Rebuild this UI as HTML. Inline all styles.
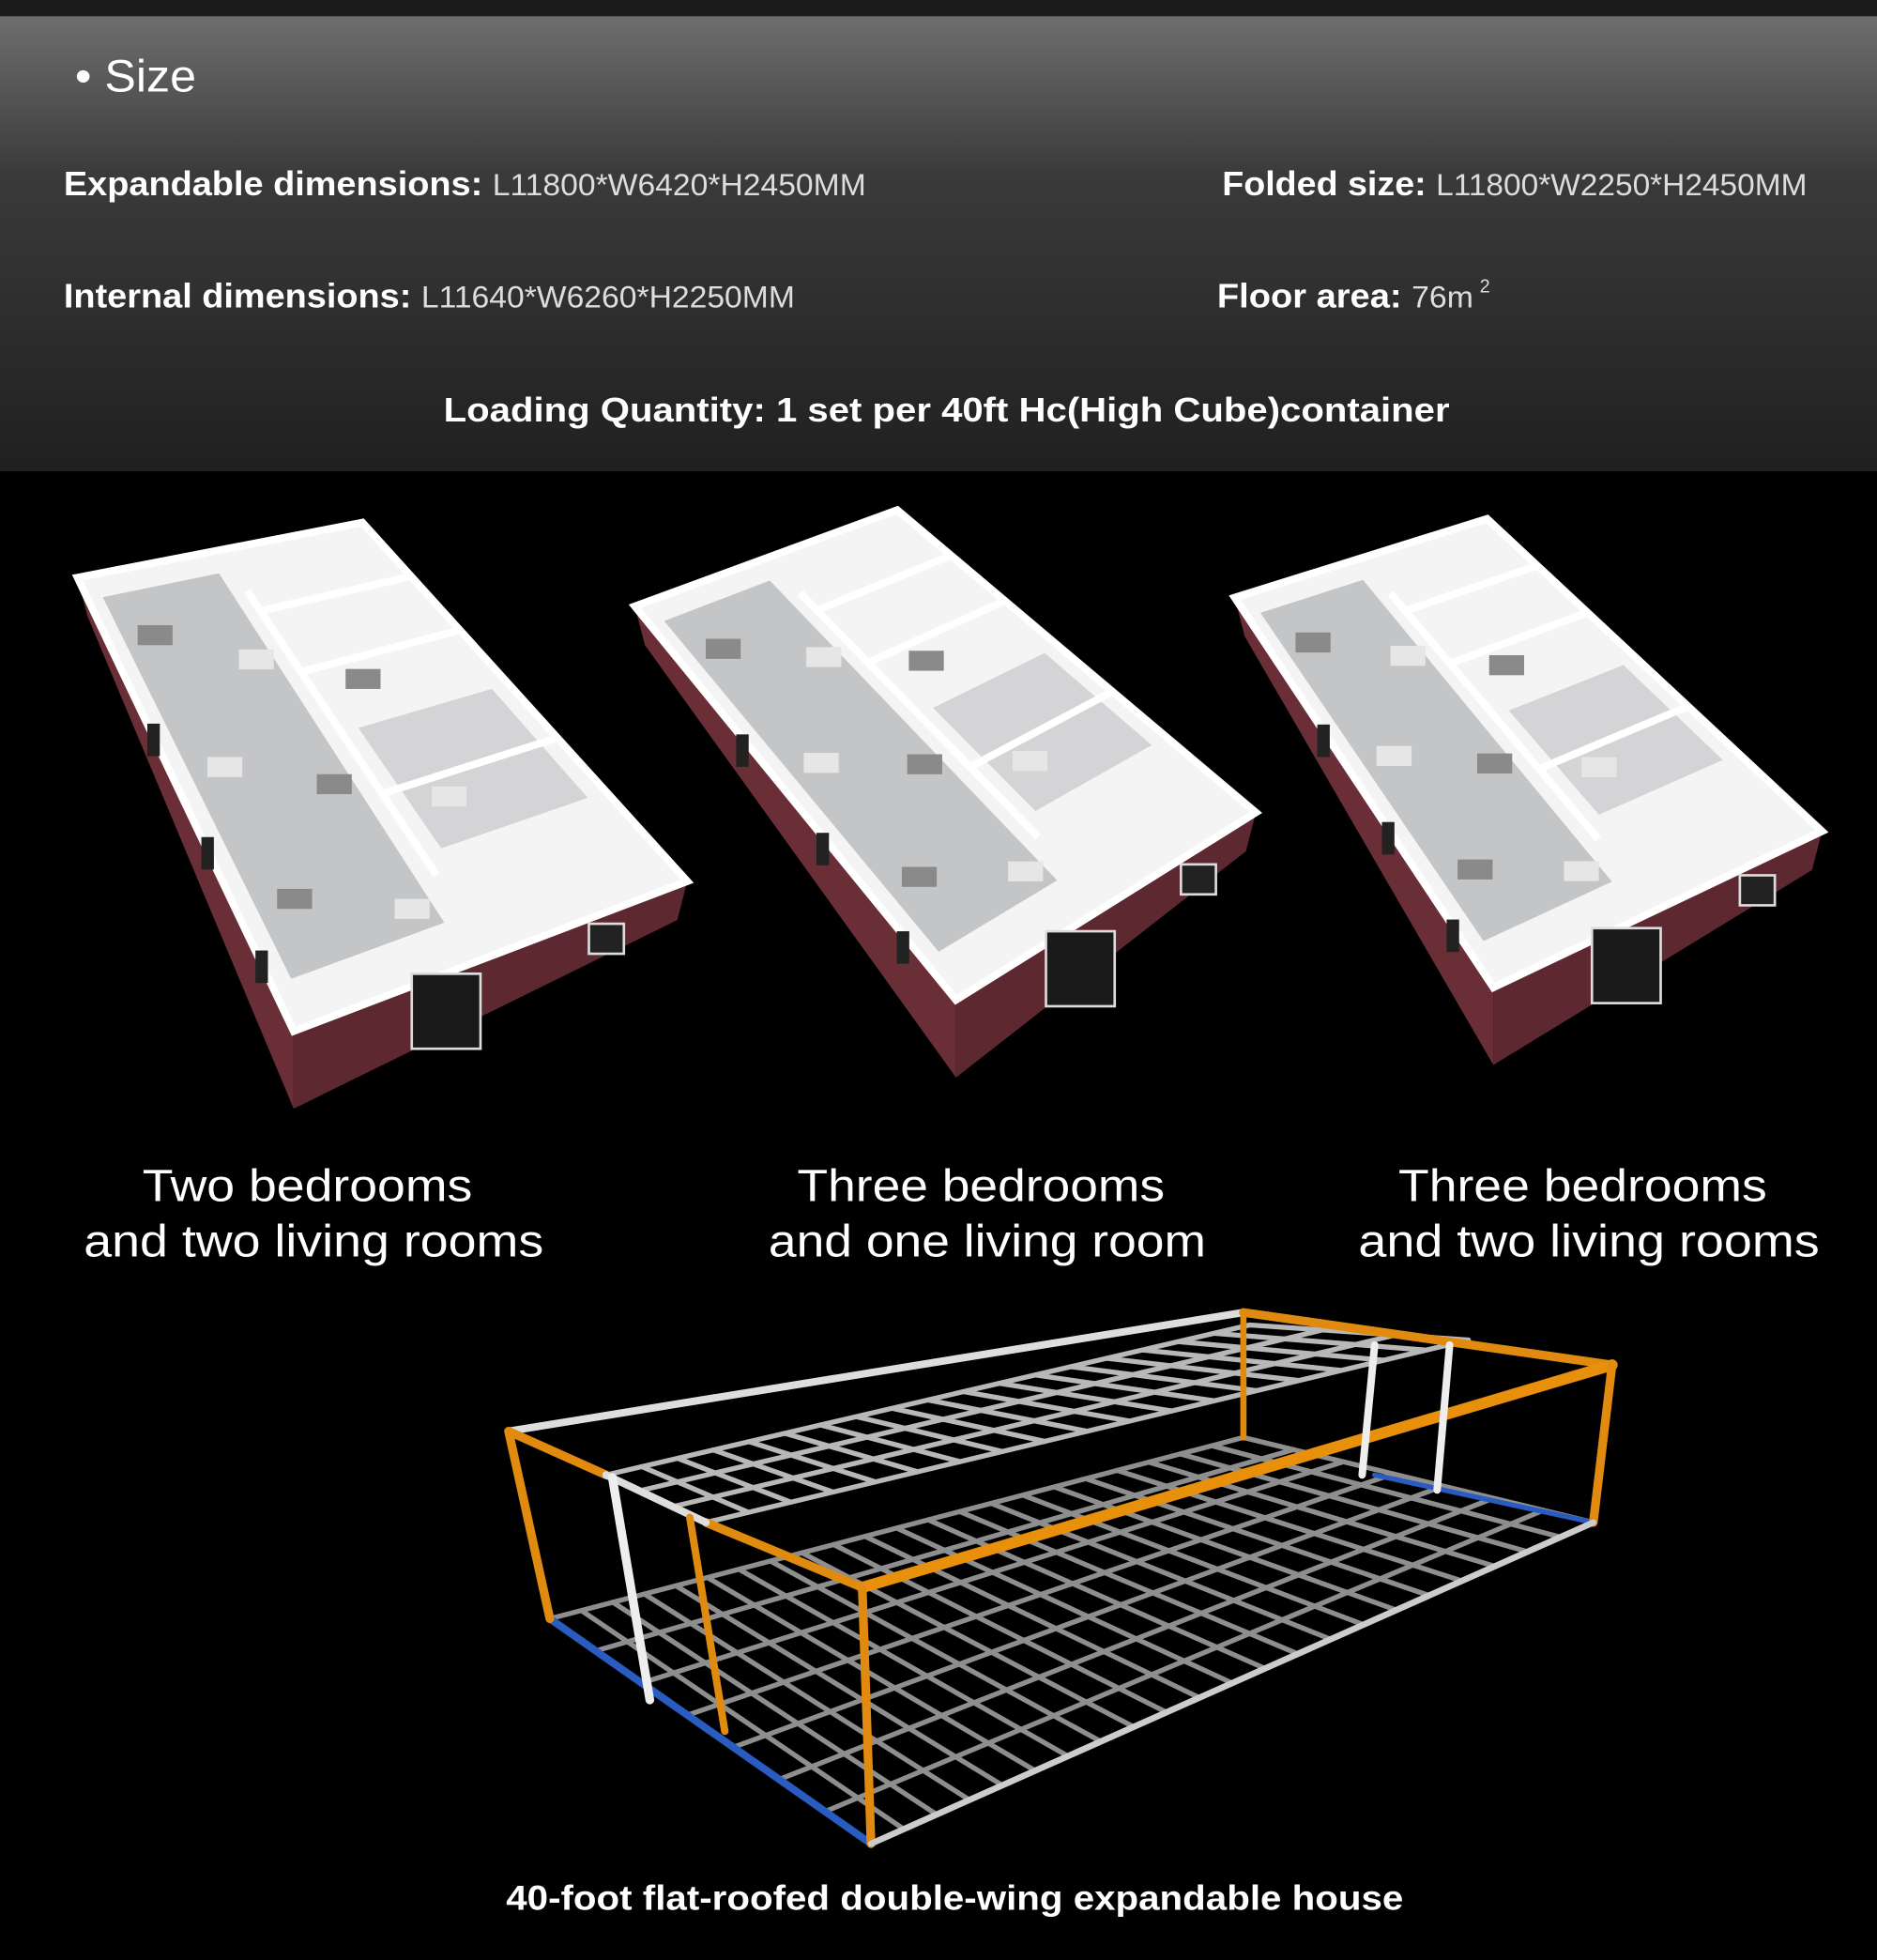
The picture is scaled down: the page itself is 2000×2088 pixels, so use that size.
<!DOCTYPE html>
<html><head><meta charset="utf-8"><style>
html,body{margin:0;padding:0;background:#000;}
svg{display:block;}
text{font-family:"Liberation Sans","DejaVu Sans",sans-serif;}
</style></head><body>
<svg id="s" width="2000" height="2088" viewBox="0 0 1502 1568" xmlns="http://www.w3.org/2000/svg">
<defs>
<linearGradient id="hg" x1="0" y1="0" x2="0" y2="1">
<stop offset="0" stop-color="#6e6e6e"/><stop offset="0.35" stop-color="#3a3a3a"/><stop offset="1" stop-color="#202020"/>
</linearGradient>
</defs>
<rect x="0" y="0" width="1502" height="1568" fill="#000"/>
<rect x="0" y="0" width="1502" height="14" fill="#1c1c1c"/>
<rect x="0" y="13" width="1502" height="364" fill="url(#hg)"/>
<text x="60" y="73" fill="#fff" font-size="36" textLength="97" lengthAdjust="spacingAndGlyphs">• Size</text>
<text x="51" y="156" fill="#fff" font-size="27" textLength="642" lengthAdjust="spacingAndGlyphs"><tspan font-weight="bold">Expandable dimensions: </tspan><tspan font-size="24" fill="#ddd">L11800*W6420*H2450MM</tspan></text>
<text x="978" y="156" fill="#fff" font-size="27" textLength="468" lengthAdjust="spacingAndGlyphs"><tspan font-weight="bold">Folded size: </tspan><tspan font-size="24" fill="#ddd">L11800*W2250*H2450MM</tspan></text>
<text x="51" y="246" fill="#fff" font-size="27" textLength="585" lengthAdjust="spacingAndGlyphs"><tspan font-weight="bold">Internal dimensions: </tspan><tspan font-size="24" fill="#ddd">L11640*W6260*H2250MM</tspan></text>
<text x="974" y="246" fill="#fff" font-size="27" textLength="205" lengthAdjust="spacingAndGlyphs"><tspan font-weight="bold">Floor area: </tspan><tspan font-size="24" fill="#ddd">76m</tspan></text>
<text x="1184" y="234" fill="#ddd" font-size="15">2</text>
<text x="355" y="337" fill="#fff" font-size="27" font-weight="bold" textLength="805" lengthAdjust="spacingAndGlyphs">Loading Quantity: 1 set per 40ft Hc(High Cube)container</text>

<g id="plans"></g>

<text x="114" y="961" fill="#fff" font-size="36" textLength="264" lengthAdjust="spacingAndGlyphs">Two bedrooms</text>
<text x="67" y="1005" fill="#fff" font-size="36" textLength="368" lengthAdjust="spacingAndGlyphs">and two living rooms</text>
<text x="638" y="961" fill="#fff" font-size="36" textLength="294" lengthAdjust="spacingAndGlyphs">Three bedrooms</text>
<text x="615" y="1005" fill="#fff" font-size="36" textLength="350" lengthAdjust="spacingAndGlyphs">and one living room</text>
<text x="1119" y="961" fill="#fff" font-size="36" textLength="295" lengthAdjust="spacingAndGlyphs">Three bedrooms</text>
<text x="1087" y="1005" fill="#fff" font-size="36" textLength="369" lengthAdjust="spacingAndGlyphs">and two living rooms</text>

<g id="frame"></g>
<text x="405" y="1528" fill="#fff" font-size="28" font-weight="bold" textLength="718" lengthAdjust="spacingAndGlyphs">40-foot flat-roofed double-wing expandable house</text>
</svg>
<script>
var NS="http://www.w3.org/2000/svg";
function el(p,t,a){var e=document.createElementNS(NS,t);for(var k in a)e.setAttribute(k,a[k]);p.appendChild(e);return e;}
function pts(a){return a.map(function(p){return p[0]+","+p[1]}).join(" ");}
function lerp(a,b,t){return [a[0]+(b[0]-a[0])*t,a[1]+(b[1]-a[1])*t];}
function bl(A,B,C,D,u,v){return lerp(lerp(A,D,u),lerp(B,C,u),v);}
var plans=document.getElementById("plans");
function plan(A,B,C,D,h){
 var D2=[D[0],D[1]+h],A2=[A[0]+8,A[1]+h*0.5],C2=[C[0]-8,C[1]+h*0.5];
 el(plans,"polygon",{points:pts([A,D,D2,A2]),fill:"#6a2e36"});
 el(plans,"polygon",{points:pts([D,C,C2,D2]),fill:"#5e2830"});
 el(plans,"polygon",{points:pts([A,B,C,D]),fill:"#f4f4f4",stroke:"#fff","stroke-width":6});
 el(plans,"polygon",{points:pts([bl(A,B,C,D,0.05,0.05),bl(A,B,C,D,0.05,0.45),bl(A,B,C,D,0.9,0.45),bl(A,B,C,D,0.9,0.05)]),fill:"#c4c5c7"});
 el(plans,"polygon",{points:pts([bl(A,B,C,D,0.45,0.55),bl(A,B,C,D,0.45,0.95),bl(A,B,C,D,0.75,0.95),bl(A,B,C,D,0.75,0.55)]),fill:"#d4d4d6"});
 [[0.3,0.5,1],[0.6,0.5,1],[0.15,0.5,1]].forEach(function(w){
  el(plans,"line",{x1:bl(A,B,C,D,w[0],w[1])[0],y1:bl(A,B,C,D,w[0],w[1])[1],x2:bl(A,B,C,D,w[0],w[2])[0],y2:bl(A,B,C,D,w[0],w[2])[1],stroke:"#fff","stroke-width":6});});
 el(plans,"line",{x1:bl(A,B,C,D,0.1,0.5)[0],y1:bl(A,B,C,D,0.1,0.5)[1],x2:bl(A,B,C,D,0.8,0.5)[0],y2:bl(A,B,C,D,0.8,0.5)[1],stroke:"#fff","stroke-width":6});
 for(var k=0;k<8;k++){var u=0.15+k*0.1,v=0.15+(k%3)*0.25;var P=bl(A,B,C,D,u,v);
  el(plans,"rect",{x:P[0]-14,y:P[1]-8,width:28,height:16,fill:k%2?"#e6e6e6":"#8a8a8a"});}
 for(var k=0;k<3;k++){var P=lerp(A,D,0.3+k*0.25);el(plans,"rect",{x:P[0]+4,y:P[1]+8,width:10,height:26,fill:"#222"});}
 var W=lerp(D,C,0.3);el(plans,"rect",{x:W[0],y:W[1]-10,width:55,height:60,fill:"#1a1a1a",stroke:"#ddd","stroke-width":2});
 var W2=lerp(D,C,0.75);el(plans,"rect",{x:W2[0],y:W2[1]+4,width:28,height:24,fill:"#222",stroke:"#ddd","stroke-width":2});
}
plan([62,462],[290,418],[550,705],[235,825],62);
plan([508,485],[718,408],[1005,650],[765,800],62);
plan([988,478],[1190,415],[1458,665],[1195,790],62);

var fr=document.getElementById("frame");
function L(p,q,c,w){el(fr,"line",{x1:p[0],y1:p[1],x2:q[0],y2:q[1],stroke:c,"stroke-width":w||6,"stroke-linecap":"round"});}
function grid(a,b,c,d,n,m,col,w){
 for(var i=0;i<=n;i++){var t=i/n;L(lerp(a,b,t),lerp(d,c,t),col,w);}
 for(var j=0;j<=m;j++){var t=j/m;L(lerp(a,d,t),lerp(b,c,t),col,w);}
}
var Q1=[440,1295],Q2=[995,1150],Q3=[1275,1218],Q4=[697,1475];
grid(Q1,Q2,Q3,Q4,22,7,"#8e8e8e",4);
L(Q1,Q4,"#2a5bc0",6);L(Q3,[1100,1180],"#2a5bc0",4);
var R1=[485,1180],R2=[1000,1060],R3=[1175,1072],R4=[565,1218];
grid(R1,R2,R3,R4,18,3,"#b8b8b8",4);
var P1=[407,1145],P2=[995,1050],P3=[1290,1092],P4=[690,1270];
L(P1,P2,"#ddd",6);L(P1,[485,1180],"#e08a10",7);L([565,1218],P4,"#e08a10",7);
L(P2,P3,"#e08a10",7);L(P3,P4,"#e8900c",9);L([485,1180],[565,1218],"#ddd",6);
L(P1,Q1,"#e08a10",7);L(P4,Q4,"#e08a10",7);L(P3,Q3,"#e08a10",7);L(P2,Q2,"#e08a10",5);
L([490,1182],[520,1360],"#eee",7);L([552,1214],[580,1385],"#e08a10",6);
L([1100,1076],[1090,1180],"#eee",6);L([1160,1076],[1150,1192],"#eee",6);
L(Q4,Q3,"#ccc",5);
</script>
</body></html>
